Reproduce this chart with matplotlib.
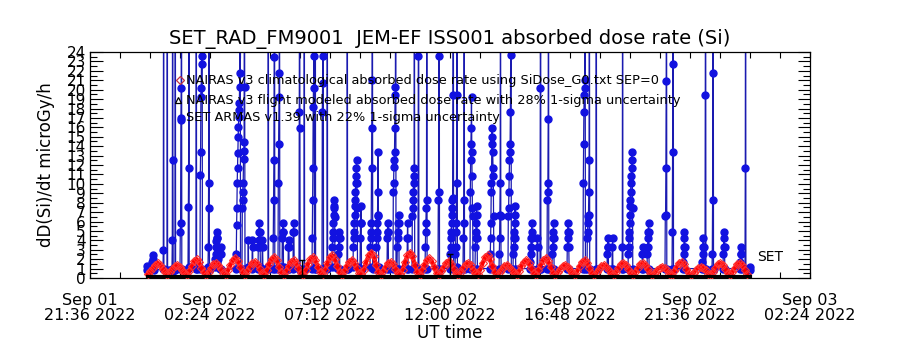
import numpy as np
import matplotlib
matplotlib.use("Agg")
import matplotlib.pyplot as plt
from matplotlib.ticker import MultipleLocator

# time axis: hours after Sep 01 21:36 UT
tick_hours = [0.0, 4.8, 9.6, 14.4, 19.2, 24.0, 28.8]
tick_labels = ["Sep 01\n21:36 2022", "Sep 02\n02:24 2022", "Sep 02\n07:12 2022",
               "Sep 02\n12:00 2022", "Sep 02\n16:48 2022", "Sep 02\n21:36 2022",
               "Sep 03\n02:24 2022"]

# SET ARMAS: one entry per pass (start hour) and the dose rates sampled in it
pass_hours = [2.28, 2.48, 2.92, 3.08, 3.28, 3.40, 3.60, 3.92, 4.24, 4.40,
              4.72, 5.00, 5.20, 5.84, 6.08, 6.32, 6.48, 6.72, 6.88, 7.12,
              7.32, 7.52, 7.68, 7.92, 8.12, 8.36, 8.56, 8.88, 9.00, 9.28,
              9.48, 9.68, 9.92, 10.28, 10.52, 10.80, 11.20, 11.44, 11.88, 12.12,
              12.28, 12.68, 12.88, 13.12, 13.40, 13.92, 14.40, 14.60, 14.92, 15.20,
              15.40, 16.00, 16.36, 16.72, 16.92, 17.60, 17.88, 18.00, 18.28, 18.48,
              19.08, 19.72, 19.88, 20.24, 20.68, 20.88, 21.28, 21.52, 22.08, 22.28,
              23.00, 23.28, 23.72, 24.48, 24.60, 24.88, 25.32, 26.00, 26.20, 26.40]
pass_doses = [
    [0.9, 1.3, 0.8],
    [1.2, 1.7, 2.4, 2.0, 1.2, 0.8],
    [1.0, 3.0, 40, 1.0],
    [0.7, 40, 0.9],
    [1.0, 4.0, 40, 12.5, 0.7],
    [0.8, 40, 1.0],
    [1.0, 4.9, 5.8, 16.8, 20.2, 40, 1.0],
    [1.0, 7.5, 11.7, 40, 1.2],
    [1.0, 40, 1.0],
    [1.0, 10.9, 13.4, 19.2, 20.2, 22.7, 23.6, 40, 1.0],
    [1.2, 3.3, 10.1, 40, 7.4, 1.0],
    [1.2, 2.0, 2.6, 3.3, 3.9, 4.2, 4.9, 4.2, 3.3, 2.0, 1.2],
    [1.0, 2.6, 3.3, 2.6, 1.0],
    [1.0, 2.6, 5.6, 7.4, 10.1, 11.7, 13.3, 15.0, 16.0, 17.1, 17.8, 18.6, 20.3, 21.8, 40, 1.0],
    [1.0, 7.4, 8.3, 9.1, 10.1, 12.6, 13.5, 14.4, 40, 20.3, 1.0],
    [1.2, 4.0, 1.2],
    [1.0, 4.0, 3.3, 1.2],
    [1.0, 3.3, 4.0, 4.9, 5.8, 4.9, 4.0, 3.3, 1.2],
    [1.0, 4.0, 3.3, 1.0],
    [1.2, 40, 1.0],
    [1.0, 4.2, 8.3, 12.5, 23.5, 40, 1.0],
    [1.0, 10.1, 14.2, 19.2, 21.8, 40, 1.2],
    [1.2, 4.2, 4.9, 5.8, 4.9, 1.2],
    [1.0, 3.3, 4.0, 3.3, 1.0],
    [1.0, 4.9, 5.8, 4.9, 1.2],
    [1.0, 17.6, 40, 15.9, 1.0],
    [1.0, 40, 1.0],
    [1.0, 4.2, 8.3, 11.7, 18.2, 20.2, 23.6, 40, 1.2],
    [1.0, 40, 1.0],
    [1.0, 17.6, 20.7, 23.6, 40, 1.0],
    [1.0, 40, 1.2],
    [1.2, 3.3, 4.2, 4.9, 5.8, 6.7, 7.6, 8.3, 7.4, 6.5, 1.2],
    [1.0, 2.6, 3.3, 4.2, 4.9, 4.2, 1.0],
    [1.0, 40, 1.0],
    [1.2, 3.3, 4.2, 4.9, 5.8, 6.7, 7.6, 8.3, 9.1, 10.1, 10.8, 11.7, 12.5, 10.1, 7.4, 1.2],
    [1.0, 4.2, 5.8, 7.6, 5.8, 1.0],
    [1.2, 3.3, 4.2, 4.9, 5.8, 11.7, 15.9, 21.0, 40, 1.0],
    [1.0, 3.3, 4.2, 4.9, 5.8, 6.7, 9.1, 13.4, 6.6, 1.2],
    [1.0, 4.2, 4.9, 5.8, 4.9, 1.0],
    [1.0, 9.1, 10.1, 11.8, 12.5, 13.4, 15.9, 19.4, 20.3, 40, 1.0],
    [1.0, 3.3, 4.2, 4.9, 5.8, 6.7, 5.8, 1.0],
    [1.0, 4.2, 5.8, 4.2, 1.0],
    [1.0, 6.6, 7.4, 8.3, 9.1, 10.1, 10.8, 11.7, 40, 1.2],
    [1.0, 23.6, 40, 1.0],
    [1.0, 3.3, 4.9, 5.8, 7.4, 8.3, 40, 1.0],
    [1.0, 8.3, 9.1, 23.6, 40, 1.0],
    [1.0, 2.6, 3.3, 4.2, 4.9, 5.8, 6.7, 7.4, 8.3, 8.5, 19.4, 40, 1.0],
    [1.0, 2.6, 3.3, 4.9, 5.8, 10.1, 19.4, 40, 1.2],
    [1.0, 4.2, 5.8, 8.3, 40, 1.0],
    [1.0, 9.1, 12.5, 14.2, 15.9, 19.2, 13.4, 10.8, 7.4, 6.6, 1.0],
    [1.0, 3.3, 4.2, 4.9, 5.8, 6.7, 7.6, 4.2, 1.0],
    [1.0, 2.6, 4.2, 5.8, 9.1, 10.1, 14.2, 15.9, 15.0, 13.4, 11.7, 10.8, 6.6, 1.0],
    [1.0, 2.6, 4.2, 6.7, 10.1, 40, 6.6, 1.0],
    [1.0, 6.6, 7.4, 9.1, 10.8, 12.5, 13.4, 14.2, 17.6, 23.7, 40, 1.0],
    [1.0, 2.6, 3.3, 4.2, 4.9, 5.8, 6.7, 7.6, 4.2, 1.0],
    [1.0, 1.7, 2.6, 3.3, 4.2, 4.9, 5.8, 4.2, 1.0],
    [1.0, 4.2, 3.3, 1.0],
    [1.0, 20.2, 40, 1.0],
    [1.0, 8.3, 9.1, 10.1, 16.9, 40, 1.0],
    [1.0, 2.6, 3.3, 4.2, 4.9, 5.8, 4.2, 1.0],
    [1.0, 3.3, 4.2, 4.9, 5.8, 4.9, 3.3, 1.0],
    [1.0, 10.1, 14.2, 17.6, 19.4, 20.2, 21.0, 40, 1.0],
    [1.0, 4.2, 4.9, 5.8, 6.6, 6.7, 9.1, 12.5, 40, 1.0],
    [1.0, 40, 1.0],
    [1.0, 2.6, 3.3, 4.2, 3.3, 1.0],
    [1.0, 3.3, 4.2, 1.0],
    [1.0, 3.3, 40, 1.0],
    [1.0, 2.6, 3.3, 4.2, 4.9, 5.8, 6.7, 7.6, 8.3, 9.1, 10.1, 10.8, 11.7, 12.5, 13.4, 7.4, 1.0],
    [1.0, 2.6, 3.3, 1.0],
    [1.0, 2.6, 3.3, 4.2, 4.9, 5.8, 4.9, 1.0],
    [1.0, 6.6, 6.7, 11.7, 20.9, 40, 1.0],
    [1.0, 4.9, 13.4, 22.7, 40, 1.0],
    [1.0, 1.7, 2.6, 3.3, 4.2, 4.9, 3.3, 1.0],
    [1.0, 1.7, 2.6, 3.3, 4.2, 3.3, 1.0],
    [1.0, 19.4, 40, 1.0],
    [1.0, 2.6, 8.3, 21.8, 40, 1.0],
    [1.0, 2.6, 3.3, 4.2, 4.9, 3.3, 1.0],
    [1.0, 1.7, 2.6, 3.3, 2.6, 1.0],
    [1.0, 11.7, 40, 1.0],
    [1.2, 0.8],
]
set_cadence = 0.012  # hours between ARMAS records

# NAIRAS climatological rate, regular cadence from red_start
red_start = 2.32
red_cadence = 0.097
red_v = [
    0.4, 0.7, 1.1, 1.4, 1.6, 1.4, 1.0, 0.6,
    0.3, 0.6, 1.0, 1.3, 1.4, 1.2, 0.9, 0.5,
    0.3, 0.7, 1.3, 1.8, 2.0, 1.7, 1.1, 0.6,
    0.3, 0.6, 1.1, 1.5, 1.6, 1.4, 1.0, 0.5,
    0.3, 0.8, 1.4, 1.9, 2.1, 1.8, 1.2, 0.6,
    0.3, 0.7, 1.2, 1.6, 1.7, 1.5, 1.0, 0.5,
    0.3, 0.8, 1.5, 2.0, 2.2, 1.9, 1.2, 0.6,
    0.3, 0.7, 1.3, 1.7, 1.9, 1.6, 1.1, 0.5,
    0.3, 0.8, 1.5, 2.0, 2.2, 1.9, 1.2, 0.6,
    0.4, 0.9, 1.6, 2.2, 2.4, 2.0, 1.3, 0.6,
    0.3, 0.7, 1.3, 1.7, 1.9, 1.6, 1.1, 0.5,
    0.4, 0.9, 1.7, 2.4, 2.7, 2.3, 1.4, 0.6,
    0.3, 0.7, 1.2, 1.6, 1.7, 1.5, 1.0, 0.5,
    0.4, 0.9, 1.7, 2.4, 2.7, 2.3, 1.4, 0.6,
    0.3, 0.8, 1.4, 1.9, 2.1, 1.8, 1.2, 0.5,
    0.3, 0.7, 1.2, 1.6, 1.8, 1.5, 1.0, 0.5,
    0.3, 0.6, 1.1, 1.5, 1.6, 1.4, 0.9, 0.5,
    0.4, 0.9, 1.6, 2.2, 2.4, 2.0, 1.3, 0.6,
    0.3, 0.6, 1.0, 1.3, 1.4, 1.2, 0.9, 0.5,
    0.3, 0.7, 1.3, 1.7, 1.9, 1.6, 1.1, 0.5,
    0.3, 0.8, 1.4, 1.9, 2.1, 1.8, 1.2, 0.5,
    0.3, 0.6, 1.0, 1.3, 1.4, 1.2, 0.9, 0.5,
    0.3, 0.7, 1.3, 1.7, 1.9, 1.6, 1.1, 0.5,
    0.3, 0.6, 1.0, 1.3, 1.4, 1.2, 0.9, 0.5,
    0.3, 0.6, 1.1, 1.5, 1.6, 1.4, 1.0, 0.5,
    0.3, 0.6, 1.1, 1.5, 1.6, 1.4, 1.0, 0.5,
    0.3, 0.5, 0.9, 1.1, 1.2, 1.1, 0.8, 0.4,
    0.3, 0.7, 1.2, 1.6, 1.7, 1.5, 1.0, 0.5,
    0.3, 0.5, 0.9, 1.1, 1.2, 1.1, 0.8, 0.4,
    0.3, 0.6, 1.1, 1.5, 1.6, 1.4, 1.0, 0.5,
    0.3, 0.6, 1.1, 1.5, 1.6, 1.4, 0.9, 0.4,
]

# NAIRAS flight modeled rate
flight_t = [2.32, 6.0, 10.0, 14.0, 18.0, 22.0, 26.4]
flight_v = [0.12, 0.12, 0.12, 0.12, 0.12, 0.12, 0.12]
err_t = [8.48, 14.40]
err_v = [1.1, 1.3]
err_e = [0.8, 1.2]

# assemble ARMAS time series
set_t, set_v = [], []
for h, vals in zip(pass_hours, pass_doses):
    for k, v in enumerate(vals):
        set_t.append(h + k * set_cadence)
        set_v.append(v)
red_t = red_start + red_cadence * np.arange(len(red_v))

fig = plt.figure(figsize=(9, 3.5), dpi=100)
ax = fig.add_axes([0.1, 0.2057, 0.8, 0.6457])

blue = "#1212e0"
ax.plot(set_t, set_v, color="#1a1ab0", lw=0.9, marker="o", ms=5,
        mfc=blue, mec=blue, zorder=2)
# climatology drawn over the ARMAS points, as in the original
ax.plot(red_t, red_v, color="red", lw=3.0, zorder=3)
ax.plot(red_t, red_v, ls="none", marker="D", ms=4, mfc="none", mec="#ff3030",
        mew=0.8, zorder=3)
ax.plot(flight_t, flight_v, color="black", lw=3.0, zorder=4)
ax.errorbar(err_t, err_v, yerr=err_e, fmt="none", ecolor="black", elinewidth=1,
            capsize=2.5, zorder=4)

# in-plot legend, IDL style
ax.plot([3.6], [21.0], marker="D", ms=4, mfc="none", mec="#c03040", mew=0.9)
ax.plot([3.52], [18.9], marker="^", ms=4.5, mfc="none", mec="black", mew=0.9)
ax.plot([3.64], [17.0], marker="o", ms=5, mfc=blue, mec=blue)
ax.text(3.84, 21.0, "NAIRAS v3 climatological absorbed dose rate using SiDose_G0.txt SEP=0",
        fontsize=9.3, va="center")
ax.text(3.84, 18.9, "NAIRAS v3 flight modeled absorbed dose rate with 28% 1-sigma uncertainty",
        fontsize=9.3, va="center")
ax.text(3.84, 17.0, "SET ARMAS v1.39 with 22% 1-sigma uncertainty",
        fontsize=9.3, va="center")
ax.text(26.68, 2.2, "SET", fontsize=10, va="center")

ax.set_xlim(0, 28.8)
ax.set_ylim(0, 24)
ax.set_xticks(tick_hours)
ax.set_xticklabels(tick_labels, fontsize=11.5, linespacing=0.95)
ax.xaxis.set_minor_locator(MultipleLocator(1.2))
ax.set_yticks(range(0, 25))
ax.set_yticklabels([str(i) for i in range(0, 25)], fontsize=11)
ax.yaxis.set_minor_locator(MultipleLocator(0.5))
ax.tick_params(axis="y", which="major", direction="in", length=9, width=0.8,
               left=True, right=True, pad=3)
ax.tick_params(axis="y", which="minor", direction="in", length=5, width=0.8,
               left=True, right=True)
ax.tick_params(axis="x", which="both", direction="in", length=4, width=0.8,
               top=True, bottom=True, pad=11)
for s in ax.spines.values():
    s.set_linewidth(0.9)

ax.set_title("SET_RAD_FM9001  JEM-EF ISS001 absorbed dose rate (Si)",
             fontsize=14, pad=6)
ax.set_xlabel("UT time", fontsize=12, labelpad=1)
ax.set_ylabel("dD(Si)/dt microGy/h", fontsize=12, labelpad=8)

fig.savefig("out.png", dpi=100)
